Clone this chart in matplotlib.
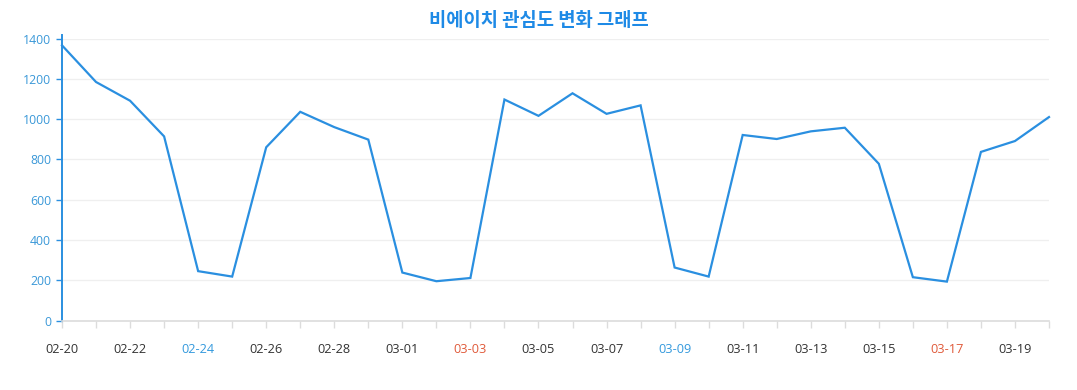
import matplotlib
matplotlib.use("Agg")
import matplotlib.pyplot as plt
from matplotlib.ticker import FixedLocator, MultipleLocator

dates = ["02-20", "02-21", "02-22", "02-23", "02-24", "02-25", "02-26", "02-27", "02-28", "02-29",
         "03-01", "03-02", "03-03", "03-04", "03-05", "03-06", "03-07", "03-08", "03-09", "03-10",
         "03-11", "03-12", "03-13", "03-14", "03-15", "03-16", "03-17", "03-18", "03-19", "03-20"]
values = [1366, 1184, 1091, 914, 245, 218, 860, 1036, 960, 898,
          238, 195, 211, 1097, 1016, 1128, 1026, 1068, 263, 218,
          921, 901, 939, 957, 778, 215, 193, 837, 891, 1010]
blue_labels = ["02-24", "03-09"]
red_labels = ["03-03", "03-17"]
title = "비에이치 관심도 변화 그래프"

plt.rcParams['font.family'] = ['Open Sans', 'Noto Sans CJK KR', 'DejaVu Sans']

fig = plt.figure(figsize=(10.77, 3.90), dpi=100)
ax = fig.add_axes([62/1077, 1-320.5/390, (1049-62)/1077, (320.5-38.5)/390])

x = list(range(len(dates)))
ax.plot(x, values, color="#2a8fe0", linewidth=1.6, solid_joinstyle="miter", zorder=3,
        clip_on=False)

ax.set_xlim(0, len(dates) - 1)
ax.set_ylim(0, 1400)
ax.yaxis.set_major_locator(MultipleLocator(200))
ax.grid(axis="y", color="#efefef", linewidth=0.9)
ax.set_axisbelow(True)

for s in ["top", "right"]:
    ax.spines[s].set_visible(False)
ax.spines["left"].set_color("#2a8fe0")
ax.spines["left"].set_linewidth(1.4)
ax.spines["left"].set_bounds(0, 1415)
ax.spines["bottom"].set_color("#dcdcdc")
ax.spines["bottom"].set_linewidth(1.2)

# x ticks: marks at every day, labels every other day
ax.xaxis.set_major_locator(FixedLocator(x[::2]))
ax.xaxis.set_minor_locator(FixedLocator(x[1::2]))
ax.set_xticklabels(dates[::2])
ax.tick_params(axis="x", which="both", length=5, color="#dcdcdc", width=1, pad=11,
               labelsize=9.2, labelcolor="#333333")
for lab in ax.get_xticklabels():
    t = lab.get_text()
    if t in blue_labels:
        lab.set_color("#3399dd")
    elif t in red_labels:
        lab.set_color("#e05a3a")

ax.tick_params(axis="y", length=4, color="#2a8fe0", width=1, pad=4,
               labelsize=8.8, labelcolor="#3a98d8")

fig.text(0.5, 1-20/390, title, ha="center", va="center", fontsize=13.5, fontweight="bold",
         color="#1e8ae6", family=['Noto Sans CJK KR', 'DejaVu Sans'])

fig.savefig("out.png", dpi=100)
